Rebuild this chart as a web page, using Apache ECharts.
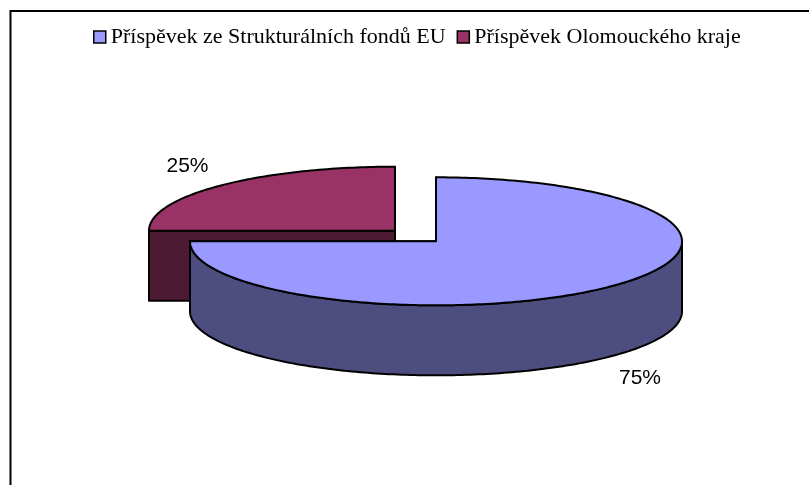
<!DOCTYPE html>
<html>
<head>
<meta charset="utf-8">
<script src="https://cdn.jsdelivr.net/npm/echarts@6/dist/echarts.min.js"></script>
<style>
html, body { margin: 0; padding: 0; background: #fff; }
#main { width: 809px; height: 485px; }
</style>
</head>
<body>
<div id="main"></div>
<script>
const names = ['Příspěvek ze Strukturálních fondů EU', 'Příspěvek Olomouckého kraje'];
const shares = [75, 25];

const topColors = ['#9999ff', '#993366'];
const sideColors = ['#4d4d80', '#4d1a33'];
const labelAt = [[640, 378], [187.5, 166]];

// ellipse of the pie, in pixels
const cx = 415.5, cy = 236, rx = 246, ry = 64, depth = 70, explode = 29;
const edge = { stroke: '#000', lineWidth: 2, lineJoin: 'round' };

const total = shares.reduce((a, b) => a + b, 0);
let running = 0;
const angles = shares.map(v => {
    const from = running / total * 360;
    running += v;
    return [from, running / total * 360];
});

function rim(c, deg) {
    const r = deg * Math.PI / 180;
    return [c[0] + rx * Math.sin(r), c[1] - ry * Math.cos(r)];
}

function arc(c, a, b) {
    const pts = [];
    for (let d = a; d < b; d += 1) pts.push(rim(c, d));
    pts.push(rim(c, b));
    return pts;
}

function drop(pts) {
    return pts.map(p => [p[0], p[1] + depth]).reverse();
}

function renderSlice(params) {
    const i = params.seriesIndex === 0 ? 1 : 0;
    const [a, b] = angles[i];
    const mid = (a + b) / 2 * Math.PI / 180;
    const c = [
        cx + explode * Math.sin(mid),
        cy - explode * Math.cos(mid) * ry / rx
    ];
    const children = [];
    [a, b].forEach(d => {
        const line = [c, rim(c, d)];
        children.push({
            type: 'polygon',
            shape: { points: line.concat(drop(line)) },
            style: Object.assign({ fill: sideColors[i] }, edge)
        });
    });
    const from = Math.max(a, 90), to = Math.min(b, 270);
    if (to > from) {
        const front = arc(c, from, to);
        children.push({
            type: 'polygon',
            shape: { points: front.concat(drop(front)) },
            style: Object.assign({ fill: sideColors[i] }, edge)
        });
    }
    children.push({
        type: 'polygon',
        shape: { points: [c].concat(arc(c, a, b)) },
        style: Object.assign({ fill: topColors[i] }, edge)
    });
    children.push({
        type: 'text',
        style: {
            x: labelAt[i][0],
            y: labelAt[i][1],
            text: Math.round(shares[i] / total * 100) + '%',
            font: '21px "Liberation Sans"',
            fill: '#000',
            align: 'center',
            verticalAlign: 'middle'
        }
    });
    return { type: 'group', children };
}

const myChart = echarts.init(document.getElementById('main'), null, { renderer: 'canvas' });
myChart.setOption({
    animation: false,
    legend: {
        left: 88,
        top: 21,
        itemWidth: 12,
        itemHeight: 12,
        itemGap: 11,
        icon: 'rect',
        data: names.map((n, i) => ({
            name: n,
            itemStyle: { color: topColors[i], borderColor: '#000', borderWidth: 1.5 }
        })),
        textStyle: { fontFamily: 'Liberation Serif', fontSize: 22, color: '#000' }
    },
    graphic: [{
        type: 'polyline',
        silent: true,
        shape: { points: [[10.5, 490], [10.5, 11], [815, 11]] },
        style: { stroke: '#000', lineWidth: 2, fill: null }
    }],
    series: [1, 0].map(i => ({
        type: 'custom',
        name: names[i],
        coordinateSystem: 'none',
        silent: true,
        itemStyle: { color: topColors[i] },
        renderItem: renderSlice,
        data: [[shares[i]]]
    }))
});
</script>
</body>
</html>
